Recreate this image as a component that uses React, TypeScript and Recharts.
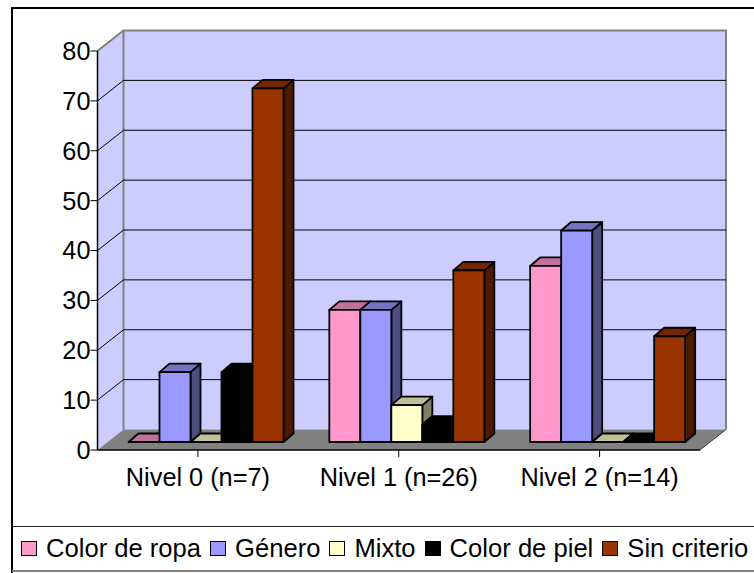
import React from "react";
import { BarChart, Bar, XAxis, YAxis, CartesianGrid, Legend } from "recharts";

const categories = ["Nivel 0 (n=7)", "Nivel 1 (n=26)", "Nivel 2 (n=14)"];
const colorRopa = [0, 26.5, 35.3];
const genero = [14, 26.5, 42.4];
const mixto = [0, 7.4, 0];
const colorPiel = [14, 3.5, 0];
const sinCriterio = [70.9, 34.4, 21.2];
const yTicks = [0, 10, 20, 30, 40, 50, 60, 70, 80];

const seriesList = [
  { name: "Color de ropa", values: colorRopa, front: "#FF99CC", top: "#C0739A", side: "#804D66" },
  { name: "Género", values: genero, front: "#9999FF", top: "#7373C0", side: "#4D4D80" },
  { name: "Mixto", values: mixto, front: "#FFFFCC", top: "#C0C099", side: "#808066" },
  { name: "Color de piel", values: colorPiel, front: "#000000", top: "#000000", side: "#000000" },
  { name: "Sin criterio", values: sinCriterio, front: "#993300", top: "#732600", side: "#4D1A00" },
];

const rows = categories.map((category, i) => {
  const row: Record<string, string | number> = { category };
  seriesList.forEach((s) => {
    row[s.name] = s.values[i];
  });
  return row;
});

const WALL_DX = 26;
const WALL_DY = 20.5;
const BAR_SHIFT_X = 8;
const BAR_SHIFT_Y = 8;
const BAR_DX = 10;
const BAR_DY = 8.5;
const FONT = "'Liberation Sans', Arial, sans-serif";

const makeBarShape = (front: string, top: string, side: string) => (props: any) => {
  const { x, y, width, height } = props;
  const fx = x + BAR_SHIFT_X;
  const fy = y - BAR_SHIFT_Y;
  const r = fx + width;
  const b = fy + height;
  const stroke = { stroke: "#000", strokeWidth: 1.8, strokeLinejoin: "round" as const };
  return (
    <g>
      <polygon points={`${r},${fy} ${r + BAR_DX},${fy - BAR_DY} ${r + BAR_DX},${b - BAR_DY} ${r},${b}`} fill={side} {...stroke} />
      <polygon points={`${fx},${fy} ${fx + BAR_DX},${fy - BAR_DY} ${r + BAR_DX},${fy - BAR_DY} ${r},${fy}`} fill={top} {...stroke} />
      <rect x={fx} y={fy} width={width} height={height} fill={front} {...stroke} />
    </g>
  );
};

const gridLine = (props: any) => {
  const { x1, x2, y1, y2, index, height, y } = props;
  const zeroY = y + height;
  const bx1 = x1 + WALL_DX;
  const bx2 = x2 + WALL_DX;
  const isFloor = Math.abs(y1 - zeroY) < 1;
  const isTop = Math.abs(y1 - y) < 1;
  const walls =
    index === 0 ? (
      <g>
        <polygon points={`${x1},${y} ${bx1},${y - WALL_DY} ${bx1},${zeroY - WALL_DY} ${x1},${zeroY}`} fill="#CCCCFF" />
        <rect x={bx1} y={y - WALL_DY} width={x2 - x1} height={height} fill="#CCCCFF" />
        <polygon points={`${x1},${zeroY} ${bx1},${zeroY - WALL_DY} ${bx2},${zeroY - WALL_DY} ${x2},${zeroY}`} fill="#808080" />
        <polyline points={`${x1},${y} ${bx1},${y - WALL_DY} ${bx2},${y - WALL_DY} ${bx2},${zeroY - WALL_DY}`} fill="none" stroke="#808080" strokeWidth={2} />
        <line x1={bx1} y1={y - WALL_DY} x2={bx1} y2={zeroY - WALL_DY} stroke="#808080" strokeWidth={2} />
        <line x1={x2} y1={zeroY} x2={bx2} y2={zeroY - WALL_DY} stroke="#404040" strokeWidth={1} />
      </g>
    ) : null;
  return (
    <g key={`grid-${index}`}>
      {walls}
      {!isFloor && !isTop && (
        <polyline points={`${x1},${y1} ${bx1},${y2 - WALL_DY} ${bx2},${y2 - WALL_DY}`} fill="none" stroke="#000" strokeWidth={1} />
      )}
    </g>
  );
};

const LegendBox = ({ payload }: any) => (
  <div
    style={{
      boxSizing: "border-box",
      height: 46,
      borderTop: "1.5px solid #222",
      borderBottom: "2px solid #808080",
      display: "flex",
      alignItems: "center",
      whiteSpace: "nowrap",
      fontFamily: FONT,
      fontSize: 25.6,
      color: "#000",
      paddingLeft: 9,
    }}
  >
    {(payload || []).map((p: any) => (
      <span key={p.value} style={{ display: "inline-flex", alignItems: "center", marginRight: 9 }}>
        <span style={{ display: "inline-block", boxSizing: "border-box", width: 16, height: 15, background: p.color, border: "1.5px solid #000", marginRight: 9 }} />
        {p.value}
      </span>
    ))}
  </div>
);

export default function App() {
  return (
    <div style={{ position: "absolute", left: 0, top: 0, width: 754, height: 573, overflow: "hidden", background: "#fff" }}>
      <div style={{ position: "absolute", left: 11, top: 7, width: 760, height: 580, border: "2.5px solid #000", boxSizing: "border-box" }} />
      <BarChart
        width={754}
        height={573}
        data={rows}
        margin={{ top: 51, right: 54, bottom: 0, left: 0 }}
        barSize={31}
        barGap={0}
        style={{ position: "absolute", left: 0, top: 0 }}
      >
        <CartesianGrid vertical={false} horizontal={gridLine} />
        <XAxis
          dataKey="category"
          height={77}
          tickSize={7}
          tickMargin={11}
          interval={0}
          axisLine={{ stroke: "#000", strokeWidth: 1.5 }}
          tickLine={{ stroke: "#000" }}
          tick={{ fill: "#000", fontSize: 25.3, fontFamily: FONT }}
        />
        <YAxis
          width={97.5}
          domain={[0, 80]}
          ticks={yTicks}
          interval={0}
          tickSize={7}
          tickMargin={0}
          axisLine={{ stroke: "#000", strokeWidth: 1.5 }}
          tickLine={{ stroke: "#000" }}
          tick={{ fill: "#000", fontSize: 25.3, fontFamily: FONT }}
        />
        <Legend
          height={46}
          verticalAlign="bottom"
          content={<LegendBox />}
          itemSorter={null}
          wrapperStyle={{ left: 12, bottom: 1, width: 760 }}
        />
        {seriesList.map((s) => (
          <Bar
            key={s.name}
            dataKey={s.name}
            fill={s.front}
            isAnimationActive={false}
            shape={makeBarShape(s.front, s.top, s.side)}
          />
        ))}
      </BarChart>
    </div>
  );
}
